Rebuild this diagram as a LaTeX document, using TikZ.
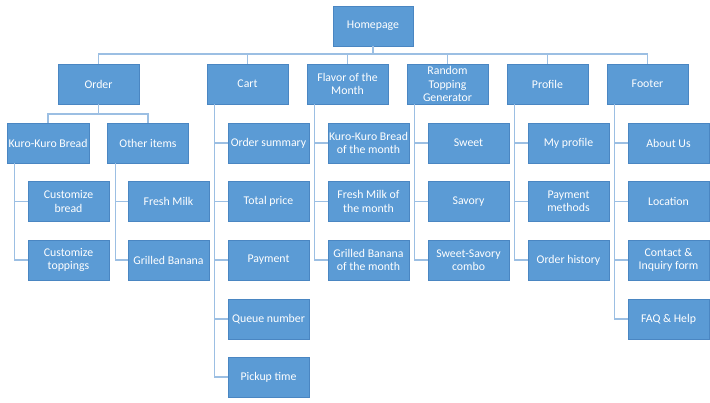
\documentclass[tikz,border=0pt]{standalone}
\usepackage{fontspec}
\setmainfont{Carlito}
\definecolor{boxblue}{HTML}{5B9BD5}
\definecolor{boxline}{HTML}{4A86C2}
\definecolor{linkblue}{HTML}{9CBFE3}
\begin{document}
\begin{tikzpicture}[x=1pt, y=-1pt,
    box/.style={draw=boxline, line width=0.6pt, fill=boxblue, text=white,
        minimum width=81pt, minimum height=40pt, inner sep=0.5pt,
        align=center, font=\fontsize{11.8}{13.3}\selectfont},
    link/.style={draw=linkblue, line width=1.4pt}]
    \useasboundingbox (0,0) rectangle (710,403);

    % Top
    \node[box, minimum width=80pt] (home) at (373,26) {Homepage};

    % Main sections
    \node[box] (order)   at (98.5,84)  {Order};
    \node[box] (cart)    at (247.5,84) {Cart};
    \node[box] (flavor)  at (347.5,84) {Flavor of the\\Month};
    \node[box] (random)  at (447.5,84) {Random\\Topping\\Generator};
    \node[box] (profile) at (547.5,84) {Profile};
    \node[box] (footer)  at (647.5,84) {Footer};

    % Order
    \node[box, minimum width=82pt] (bread) at (48,143)  {Kuro-Kuro Bread};
    \node[box] (other) at (148,143) {Other items};
    \node[box] (cbread)   at (68.5,201.5)  {Customize\\bread};
    \node[box] (ctopping) at (68.5,260)    {Customize\\toppings};
    \node[box] (milk)     at (168.5,201.5) {Fresh Milk};
    \node[box] (banana)   at (168.5,260)   {Grilled Banana};

    % Cart
    \node[box] (summary) at (268.5,143)   {Order summary};
    \node[box] (total)   at (268.5,201.5) {Total price};
    \node[box] (payment) at (268.5,260)   {Payment};
    \node[box] (queue)   at (268.5,319)   {Queue number};
    \node[box] (pickup)  at (268.5,377)   {Pickup time};

    % Flavor of the Month
    \node[box] (fbread)  at (368.5,143)   {Kuro-Kuro Bread\\of the month};
    \node[box] (fmilk)   at (368.5,201.5) {Fresh Milk of\\the month};
    \node[box] (fbanana) at (368.5,260)   {Grilled Banana\\of the month};

    % Random Topping Generator
    \node[box] (sweet)  at (468.5,143)   {Sweet};
    \node[box] (savory) at (468.5,201.5) {Savory};
    \node[box] (combo)  at (468.5,260)   {Sweet-Savory\\combo};

    % Profile
    \node[box] (myprofile) at (568.5,143)   {My profile};
    \node[box] (methods)   at (568.5,201.5) {Payment\\methods};
    \node[box] (history)   at (568.5,260)   {Order history};

    % Footer
    \node[box] (about)    at (668.5,143)   {About Us};
    \node[box] (location) at (668.5,201.5) {Location};
    \node[box] (contact)  at (668.5,260)   {Contact \&\\Inquiry form};
    \node[box] (faq)      at (668.5,319)   {FAQ \& Help};

    % Homepage to sections
    \coordinate (bus) at (373,54);
    \draw[link] (home.south) -- (bus);
    \foreach \s in {order,cart,flavor,random,profile,footer}
        \draw[link] (bus) -| (\s.north);

    % Order to its items
    \coordinate (obus) at (98.5,114);
    \draw[link] (order.south) -- (obus);
    \draw[link] (obus) -| (bread.north);
    \draw[link] (obus) -| (other.north);

    % Side connectors
    \foreach \p/\c in {bread/cbread, bread/ctopping, other/milk, other/banana,
        cart/summary, cart/total, cart/payment, cart/queue, cart/pickup,
        flavor/fbread, flavor/fmilk, flavor/fbanana,
        random/sweet, random/savory, random/combo,
        profile/myprofile, profile/methods, profile/history,
        footer/about, footer/location, footer/contact, footer/faq}
        \draw[link] ([xshift=8pt]\p.south west) |- (\c.west);
\end{tikzpicture}
\end{document}
